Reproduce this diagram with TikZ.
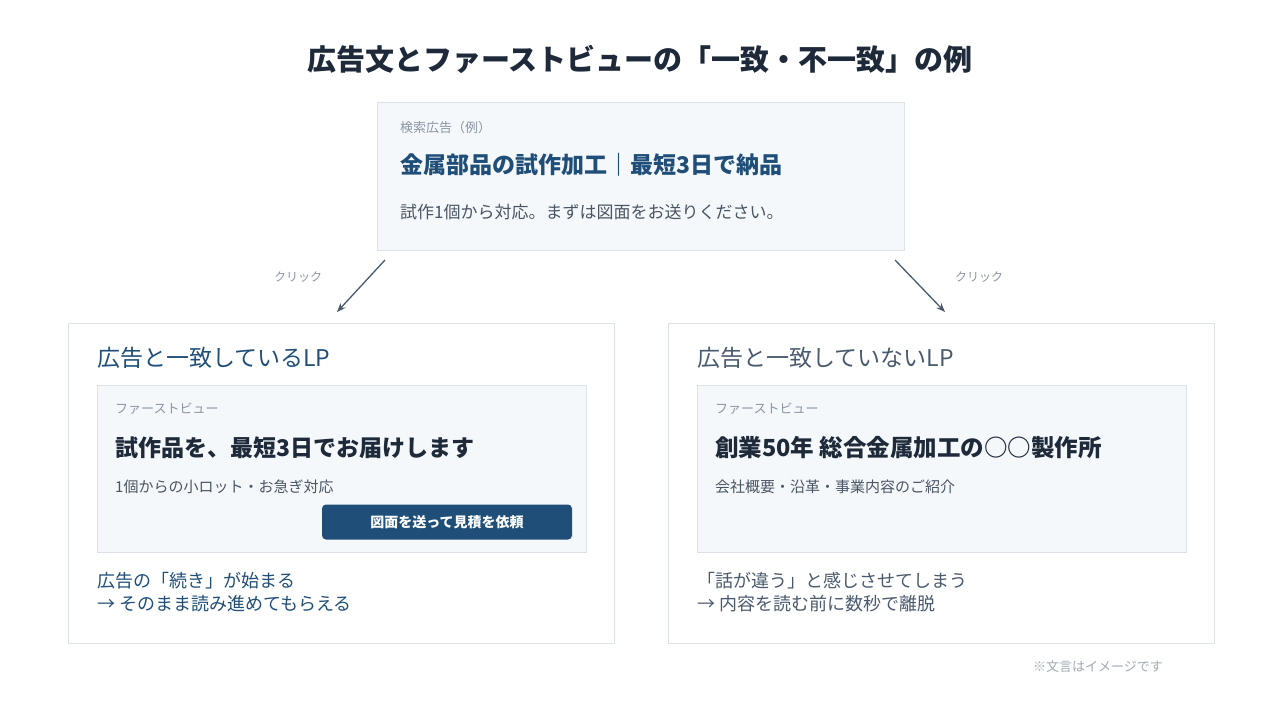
\documentclass[tikz,border=0pt]{standalone}
\usepackage{fontspec}
\setmainfont{Noto Sans CJK JP}
\usetikzlibrary{positioning,arrows.meta}
\definecolor{ink}{HTML}{1E2A3A}
\definecolor{navy}{HTML}{1F4E79}
\definecolor{slate}{HTML}{4A5A6E}
\definecolor{mute}{HTML}{8A95A3}
\definecolor{body}{HTML}{4A5563}
\definecolor{pane}{HTML}{F5F8FB}
\definecolor{rim}{HTML}{DDE2E8}
\begin{document}
\begin{tikzpicture}[x=1pt, y=-1pt,
  card/.style={draw=rim, line width=0.8pt},
  txt/.style={anchor=west, inner sep=0pt},
  small/.style={txt, text=mute, font=\fontsize{13}{15}\selectfont},
  arr/.style={-{Stealth[length=9pt,width=7pt]}, draw=slate, line width=1.3pt}]
    \useasboundingbox[fill=white] (0,0) rectangle (1280,720);
    \node[inner sep=0pt, text=ink, font=\bfseries\fontsize{29}{34}\selectfont] (title) at (640,59) {広告文とファーストビューの「一致・不一致」の例};

    % search ad
    \draw[card, fill=pane] (377,102) rectangle (904,250);
    \node[small] (ad-tag) at (400,128) {検索広告（例）};
    \node[txt, text=navy, font=\bfseries\fontsize{23}{27}\selectfont] (ad-head) at (400,165) {金属部品の試作加工｜最短3日で納品};
    \node[txt, text=body, font=\fontsize{17}{20}\selectfont] (ad-sub) at (400,212) {試作1個から対応。まずは図面をお送りください。};
    \coordinate (ad-l) at (385,260);
    \coordinate (ad-r) at (895,260);

    % matching LP
    \draw[card, fill=white] (68,323) rectangle (614,643);
    \coordinate (lp-a) at (337,312);
    \node[txt, text=navy, font=\fontsize{23}{27}\selectfont] (ok-head) at (97,358) {広告と一致しているLP};
    \draw[card, fill=pane] (97,385) rectangle (586,552);
    \node[small] (ok-tag) at (115,409) {ファーストビュー};
    \node[txt, text=ink, font=\bfseries\fontsize{23}{27}\selectfont] (ok-fv) at (115,448) {試作品を、最短3日でお届けします};
    \node[txt, text=body, font=\fontsize{15}{18}\selectfont] (ok-sub) at (115,487) {1個からの小ロット・お急ぎ対応};
    \node[fill=navy, rounded corners=4pt, minimum width=250pt, minimum height=35pt, text=white, font=\bfseries\fontsize{14}{17}\selectfont] (ok-btn) at (447,522) {図面を送って見積を依頼};
    \node[txt, text=navy, font=\fontsize{18}{23}\selectfont, align=left, anchor=north west] (ok-note) at (97,572) {広告の「続き」が始まる\\→ そのまま読み進めてもらえる};

    % mismatching LP
    \draw[card, fill=white] (668,323) rectangle (1214,643);
    \coordinate (lp-b) at (945,312);
    \node[txt, text=slate, font=\fontsize{23}{27}\selectfont] (ng-head) at (697,358) {広告と一致していないLP};
    \draw[card, fill=pane] (697,385) rectangle (1186,552);
    \node[small] (ng-tag) at (715,409) {ファーストビュー};
    \node[txt, text=ink, font=\bfseries\fontsize{23.5}{27}\selectfont] (ng-fv) at (715,448) {創業50年 総合金属加工の○○製作所};
    \node[txt, text=body, font=\fontsize{15}{18}\selectfont] (ng-sub) at (715,487) {会社概要・沿革・事業内容のご紹介};
    \node[txt, text=slate, font=\fontsize{18}{23}\selectfont, align=left, anchor=north west] (ng-note) at (697,572) {「話が違う」と感じさせてしまう\\→ 内容を読む前に数秒で離脱};

    \draw[arr] (ad-l) -- (lp-a);
    \draw[arr] (ad-r) -- (lp-b);
    \node[inner sep=0pt, text=mute, font=\fontsize{12}{14}\selectfont] (click-l) at (298,277) {クリック};
    \node[inner sep=0pt, text=mute, font=\fontsize{12}{14}\selectfont] (click-r) at (979,277) {クリック};

    \node[inner sep=0pt, text=mute!80, font=\fontsize{13}{15}\selectfont] (foot) at (1098,667) {※文言はイメージです};
\end{tikzpicture}
\end{document}
